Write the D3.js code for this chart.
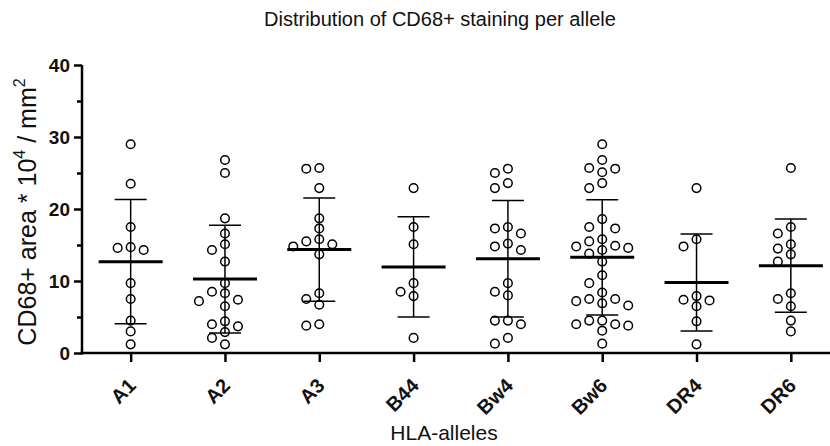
<html>
  <head>
    <meta charset="utf-8">
    <script src="https://cdn.jsdelivr.net/npm/d3@7"></script>
    <title>Distribution of CD68+ staining per allele</title>
    <style>
      body {
        margin: 0px;
        background: #fff;
      }
      text {
        font-family: Arial, 'Liberation Sans', sans-serif;
        fill: #111;
      }
      .axis .domain, .axis .tick line {
        stroke: #000;
        stroke-width: 2.5px;
      }
      .axis .tick text {
        font-weight: bold;
        font-size: 19px;
        fill: #111;
      }
      .axis--x .tick text {
        font-size: 20px;
      }
      .dot {
        fill: #fff;
        stroke: #000;
        stroke-width: 1.5px;
      }
      .sd {
        stroke: #000;
        stroke-width: 1.5px;
      }
      .mean {
        stroke: #000;
        stroke-width: 3px;
      }
    </style>
  </head>
  <body>
    <svg width="830" height="446"></svg>
    <script>
      var alleles = ['A1', 'A2', 'A3', 'B44', 'Bw4', 'Bw6', 'DR4', 'DR6'];

      // CD68+ area per patient
      var valuesA1 = [29.0, 23.5, 17.5, 14.7, 14.6, 14.3, 9.7, 7.5, 4.5, 3.0, 1.2];
      var valuesA2 = [26.8, 25.0, 18.7, 16.6, 15.1, 14.3, 12.7, 9.7, 8.5, 8.3, 7.4, 7.2,
                      6.5, 4.4, 4.0, 3.7, 2.9, 2.1, 1.2];
      var valuesA3 = [25.7, 25.6, 22.9, 18.7, 17.3, 15.8, 15.5, 15.1, 14.8, 13.7, 8.3,
                      7.5, 6.7, 4.0, 3.8];
      var valuesB44 = [22.9, 17.5, 15.1, 9.7, 8.5, 7.9, 2.1];
      var valuesBw4 = [25.6, 25.0, 23.6, 22.9, 17.5, 17.3, 16.6, 15.2, 14.8, 14.3, 9.7,
                       8.5, 8.0, 4.5, 4.5, 4.0, 2.1, 1.3];
      var valuesBw6 = [29.0, 26.8, 25.7, 25.6, 25.1, 23.6, 22.9, 18.6, 17.5, 17.3, 15.8,
                       15.5, 14.9, 14.8, 14.6, 14.3, 13.8, 12.7, 10.8, 9.7, 8.4, 7.5,
                       7.5, 7.2, 6.9, 6.6, 4.5, 4.5, 4.0, 4.0, 3.8, 3.1, 1.3];
      var valuesDR4 = [22.9, 15.8, 14.8, 7.9, 7.4, 7.3, 6.5, 4.4, 1.2];
      var valuesDR6 = [25.7, 17.5, 16.6, 15.1, 14.5, 13.7, 12.7, 8.3, 7.5, 6.5, 4.5, 3.0];

      var groups = [valuesA1, valuesA2, valuesA3, valuesB44, valuesBw4, valuesBw6, valuesDR4, valuesDR6];
      var yTicks = [0, 10, 20, 30, 40];
      var yMinorTicks = [5, 15, 25, 35];

      var svg = d3.select('svg');

      var xScale = d3.scalePoint()
        .domain(alleles)
        .range([83.5, 838])
        .padding(0.5);
      var yScale = d3.scaleLinear()
        .domain([0, 40])
        .range([353, 65]);

      // axes
      var yAxisG = svg.append('g')
        .attr('class', 'axis')
        .attr('transform', 'translate(82,0)')
        .call(d3.axisLeft(yScale).tickValues(yTicks).tickSize(8).tickSizeOuter(0).tickPadding(4));
      yAxisG.select('.domain').attr('d', 'M0,' + yScale(40) + 'V' + (yScale(0) + 1.5));
      svg.append('g')
        .attr('class', 'axis')
        .attr('transform', 'translate(82,0)')
        .call(d3.axisLeft(yScale).tickValues(yMinorTicks).tickSize(5).tickFormat(''))
        .select('.domain').remove();

      var xAxisG = svg.append('g')
        .attr('class', 'axis axis--x')
        .attr('transform', 'translate(0,' + yScale(0) + ')')
        .call(d3.axisBottom(xScale).tickSize(9).tickSizeOuter(0));
      xAxisG.select('.domain').attr('d', 'M80.5,0H830');
      xAxisG.selectAll('.tick text')
        .attr('text-anchor', 'end')
        .attr('dy', null)
        .attr('y', null)
        .attr('transform', 'translate(6,34) rotate(-45)');

      // simple lane placement so the open circles don't sit on each other
      var laneWidth = 13, minGap = 10;
      var laneOrder = [0, -1, 1, -2, 2, -3, 3];
      function placeDots(values, cx) {
        var placed = [];
        values.slice().sort(d3.descending).forEach(function (v) {
          var y = yScale(v);
          var lane = laneOrder.find(function (l) {
            return !placed.some(function (p) {
              return p.lane === l && Math.abs(p.y - y) < minGap;
            });
          });
          placed.push({ value: v, lane: lane, x: cx + lane * laneWidth, y: y });
        });
        return placed;
      }

      var marksG = svg.append('g');
      groups.forEach(function (values, i) {
        var cx = xScale(alleles[i]);
        var g = marksG.append('g');
        g.selectAll('circle')
          .data(placeDots(values, cx))
          .enter().append('circle')
            .attr('class', 'dot')
            .attr('cx', function (d) { return d.x; })
            .attr('cy', function (d) { return d.y; })
            .attr('r', 4.3);

        var mean = d3.mean(values);
        var sd = d3.deviation(values);
        g.append('line').attr('class', 'sd')
          .attr('x1', cx).attr('x2', cx)
          .attr('y1', yScale(mean + sd)).attr('y2', yScale(mean - sd));
        [mean + sd, mean - sd].forEach(function (v) {
          g.append('line').attr('class', 'sd')
            .attr('x1', cx - 16).attr('x2', cx + 16)
            .attr('y1', yScale(v)).attr('y2', yScale(v));
        });
        g.append('line').attr('class', 'mean')
          .attr('x1', cx - 32).attr('x2', cx + 32)
          .attr('y1', yScale(mean)).attr('y2', yScale(mean));
      });

      // titles
      svg.append('text')
        .attr('x', 440).attr('y', 26)
        .attr('text-anchor', 'middle')
        .style('font-size', '20px')
        .text('Distribution of CD68+ staining per allele');

      svg.append('text')
        .attr('x', 444).attr('y', 440)
        .attr('text-anchor', 'middle')
        .style('font-size', '21px')
        .text('HLA-alleles');

      var yLabel = svg.append('text')
        .attr('transform', 'translate(36,212) rotate(-90)')
        .attr('text-anchor', 'middle')
        .style('font-size', '25px');
      yLabel.append('tspan').text('CD68+ area * 10');
      yLabel.append('tspan').attr('dy', -11).style('font-size', '16px').text('4');
      yLabel.append('tspan').attr('dy', 11).text(' / mm');
      yLabel.append('tspan').attr('dy', -11).style('font-size', '16px').text('2');
    </script>
  </body>
</html>
